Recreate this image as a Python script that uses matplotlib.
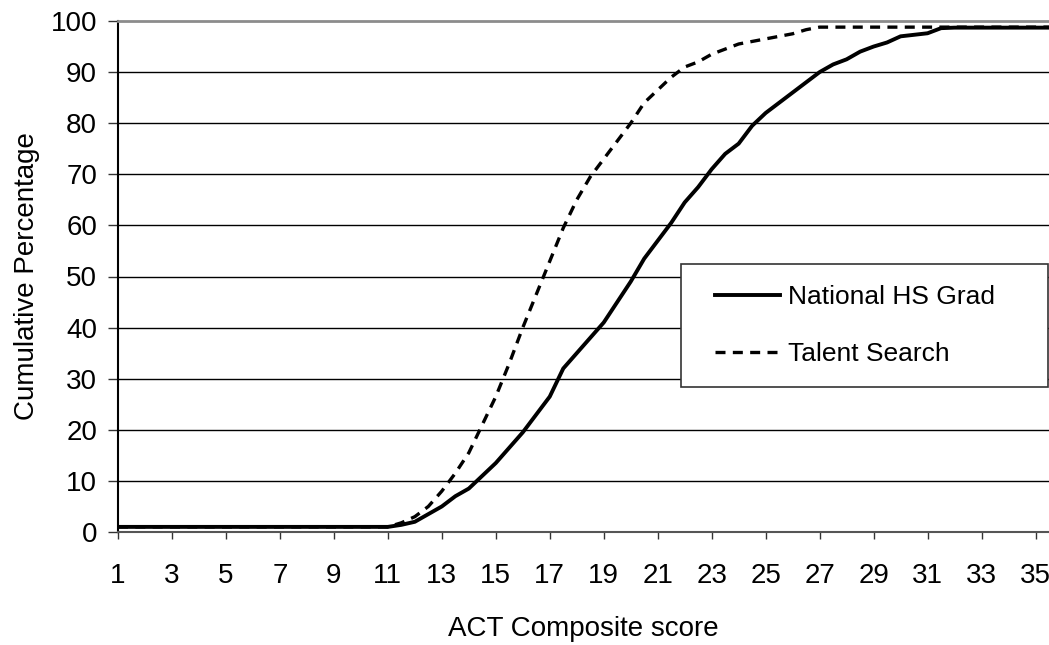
import numpy as np
import matplotlib.pyplot as plt
from matplotlib.legend_handler import HandlerLine2D

# ACT composite score (half-point steps)
scores = np.arange(1, 36, 0.5)

# Cumulative percentage, national HS graduates
national = [1.0] * 21 + [
    1.4, 2.0, 3.5, 5.0, 7.0, 8.5, 11.0, 13.5, 16.5, 19.5,
    23.0, 26.5, 32.0, 35.0, 38.0, 41.0, 45.0, 49.0, 53.5, 57.0,
    60.5, 64.5, 67.5, 71.0, 74.0, 76.0, 79.5, 82.0, 84.0, 86.0,
    88.0, 90.0, 91.5, 92.5, 94.0, 95.0, 95.8, 97.0, 97.3, 97.6,
    98.6, 98.7, 98.7, 98.7, 98.7, 98.7, 98.7, 98.7, 98.7]

# Cumulative percentage, Talent Search
talent = [1.0] * 21 + [
    1.8, 3.0, 5.0, 8.0, 11.5, 15.5, 21.0, 26.5, 33.0, 40.0,
    46.5, 53.0, 59.5, 65.0, 69.5, 73.0, 76.5, 80.0, 84.0, 86.5,
    89.0, 91.0, 92.0, 93.5, 94.5, 95.5, 96.0, 96.5, 97.0, 97.5,
    98.3, 98.8, 98.8, 98.8, 98.8, 98.8, 98.8, 98.8, 98.8, 98.8,
    98.8, 98.8, 98.8, 98.8, 98.8, 98.8, 98.8, 98.8, 98.8]

xticks = list(range(1, 36, 2))
yticks = list(range(0, 101, 10))

plt.rcParams['font.family'] = ['Liberation Sans', 'DejaVu Sans']
plt.rcParams['font.size'] = 20

fig = plt.figure(figsize=(10.49, 6.45), dpi=100)
ax = fig.add_axes([118 / 1049, 1 - 532 / 645, 1 - 118 / 1049, (532 - 21) / 645])

for y in yticks[1:-1]:
    ax.axhline(y, color='black', lw=1.0, zorder=1)

ax.plot(scores, national, color='black', lw=2.8, solid_joinstyle='round',
        label='National HS Grad', zorder=3)
ax.plot(scores, talent, color='black', lw=2.4, dashes=(3, 2.2),
        label='Talent Search', zorder=2)

ax.set_xlim(1, 35.5)
ax.set_ylim(0, 100)
ax.set_xticks(xticks)
ax.set_yticks(yticks)
ax.tick_params(axis='x', direction='out', length=5, width=1, pad=17, color='#333333')
ax.tick_params(axis='y', direction='out', length=7, width=1, pad=8, color='#333333')

ax.spines['top'].set_color('#8c8c8c')
ax.spines['top'].set_linewidth(2)
ax.spines['right'].set_visible(False)
ax.spines['left'].set_color('black')
ax.spines['left'].set_linewidth(1.5)
ax.spines['bottom'].set_color('#555555')
ax.spines['bottom'].set_linewidth(1.5)

ax.set_xlabel('ACT Composite score', labelpad=20)
ax.set_ylabel('Cumulative Percentage', labelpad=8)

# legend box: x 681-1048 px, y 264-387 px
x0 = (681 - 118) / 931
w = (1048 - 681) / 931
y0 = (532 - 387) / 511
h = (387 - 264) / 511
hm = {l: HandlerLine2D(xpad=0.5) for l in ax.get_lines()}
leg = ax.legend(loc='upper left', bbox_to_anchor=(x0, y0, w, h), mode='expand',
                fontsize=19, fancybox=False, frameon=True, handlelength=2.95,
                handletextpad=0.3, labelspacing=1.25, borderpad=0.8,
                borderaxespad=0, handler_map=hm)
leg.get_frame().set_edgecolor('#333333')
leg.get_frame().set_linewidth(1.2)
leg.get_frame().set_alpha(1)

fig.savefig('out.png', dpi=100)
